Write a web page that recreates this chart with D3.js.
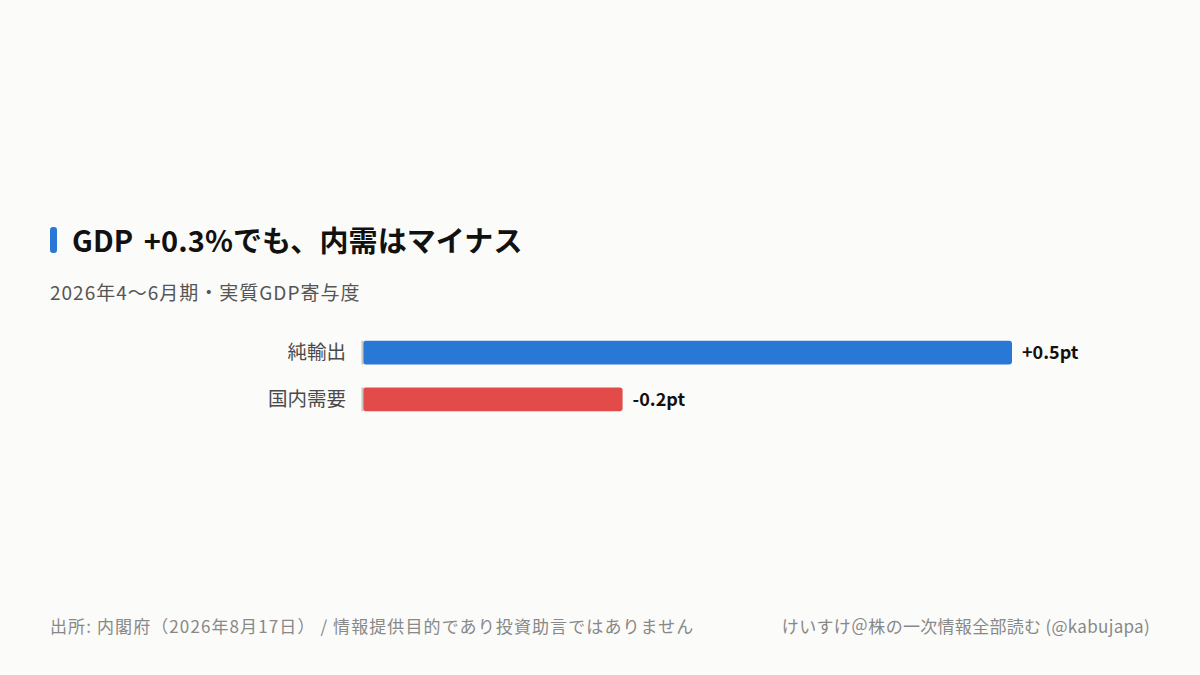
<!DOCTYPE html>
<html>
<head>
<meta charset="utf-8">
<script src="https://cdn.jsdelivr.net/npm/d3@7"></script>
<style>
  html, body { margin: 0; padding: 0; background: #fbfbf9; }
  svg { display: block; font-family: "Noto Sans CJK JP", "Noto Sans", sans-serif; }
</style>
</head>
<body>
<script>
const width = 1200;
const height = 675;

// data
const categories = ['純輸出', '国内需要'];
const values = [0.5, -0.2];
const valueLabels = ['+0.5pt', '-0.2pt'];
const colors = ['#2a78d6', '#e34a4a'];

const svg = d3.select('body').append('svg')
  .attr('width', width)
  .attr('height', height);

svg.append('rect')
  .attr('width', width)
  .attr('height', height)
  .attr('fill', '#fbfbf9');

// title
svg.append('rect')
  .attr('x', 50)
  .attr('y', 227)
  .attr('width', 7)
  .attr('height', 26)
  .attr('rx', 3)
  .attr('fill', '#2a78d6');

svg.append('text')
  .text('GDP +0.3%でも、内需はマイナス')
  .attr('x', 72)
  .attr('y', 252)
  .attr('font-size', 29)
  .attr('font-weight', 'bold')
  .attr('word-spacing', 4)
  .attr('letter-spacing', 0.1)
  .attr('fill', '#111');

svg.append('text')
  .text('2026年4〜6月期・実質GDP寄与度')
  .attr('x', 50)
  .attr('y', 300)
  .attr('font-size', 19)
  .attr('letter-spacing', 1)
  .attr('fill', '#555');

// scales
const x = d3.scaleLinear()
  .domain([0, 0.5])
  .range([363, 1012]);

const y = d3.scaleBand()
  .domain(categories)
  .range([329, 423])
  .paddingInner(0.49)
  .paddingOuter(0.25);

const rows = categories.map((c, i) => ({cat: c, v: values[i], label: valueLabels[i], color: colors[i]}));

svg.selectAll('.bar')
  .data(rows)
  .enter()
  .append('rect')
  .attr('class', 'bar')
  .attr('x', x(0))
  .attr('y', d => y(d.cat))
  .attr('width', d => x(Math.abs(d.v)) - x(0))
  .attr('height', y.bandwidth())
  .attr('rx', 3)
  .attr('fill', d => d.color);

// baseline
svg.selectAll('.base')
  .data(rows)
  .enter()
  .append('rect')
  .attr('class', 'base')
  .attr('x', x(0) - 1.5)
  .attr('y', d => y(d.cat))
  .attr('width', 2)
  .attr('height', y.bandwidth())
  .attr('fill', '#c9c6bf');

svg.selectAll('.cat')
  .data(rows)
  .enter()
  .append('text')
  .attr('class', 'cat')
  .text(d => d.cat)
  .attr('x', 346)
  .attr('y', d => y(d.cat) + y.bandwidth() / 2)
  .attr('dy', '0.35em')
  .attr('text-anchor', 'end')
  .attr('font-size', 19.5)
  .attr('fill', '#4a4a4a');

svg.selectAll('.val')
  .data(rows)
  .enter()
  .append('text')
  .attr('class', 'val')
  .text(d => d.label)
  .attr('x', d => x(Math.abs(d.v)) + 10)
  .attr('y', d => y(d.cat) + y.bandwidth() / 2)
  .attr('dy', '0.35em')
  .attr('font-size', 18)
  .attr('font-weight', 'bold')
  .attr('fill', '#111');

// footer
svg.append('text')
  .text('出所: 内閣府（2026年8月17日） / 情報提供目的であり投資助言ではありません')
  .attr('x', 50)
  .attr('y', 633)
  .attr('font-size', 17)
  .attr('letter-spacing', 1.1)
  .attr('fill', '#888');

svg.append('text')
  .text('けいすけ＠株の一次情報全部読む (@kabujapa)')
  .attr('x', 1150)
  .attr('y', 633)
  .attr('text-anchor', 'end')
  .attr('font-size', 17)
  .attr('letter-spacing', 0.3)
  .attr('fill', '#888');
</script>
</body>
</html>
